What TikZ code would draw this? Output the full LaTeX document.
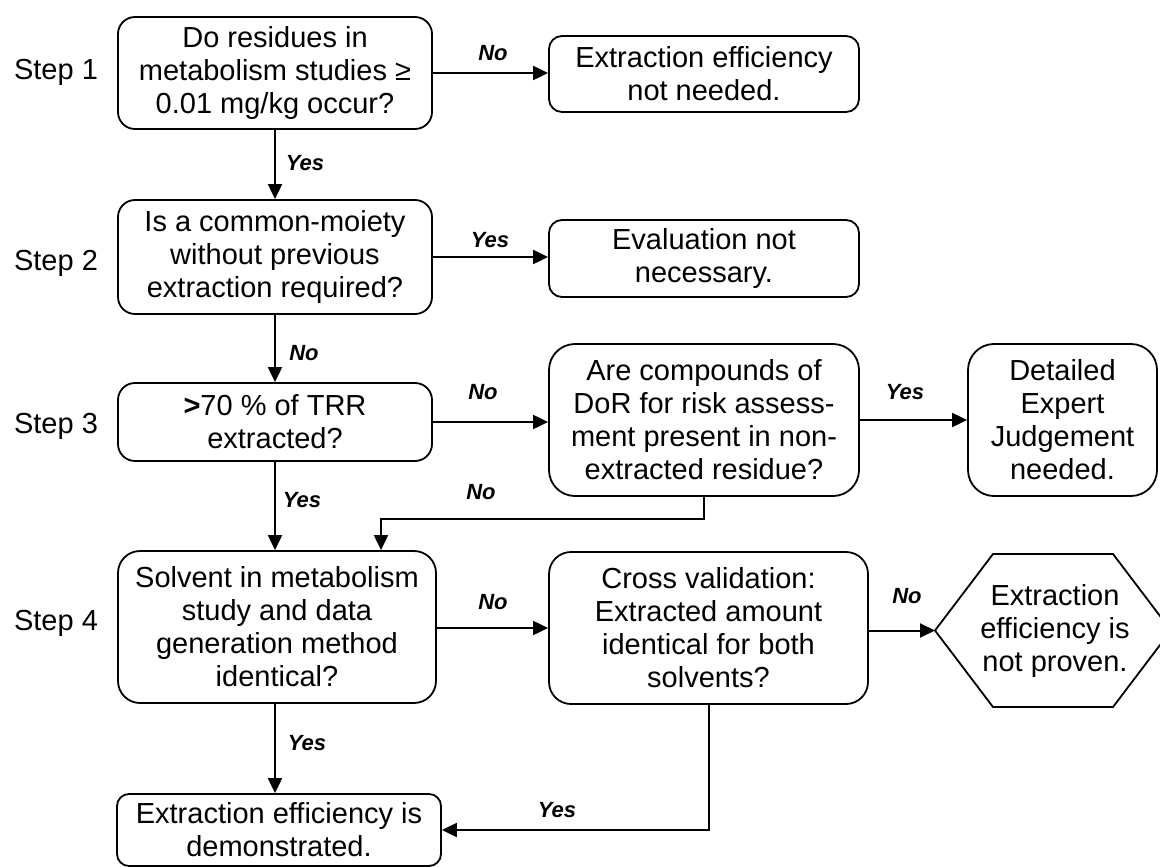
\documentclass[tikz,border=0pt]{standalone}
\usepackage{fontspec}
\setmainfont{Liberation Sans}
\usetikzlibrary{arrows.meta}
\begin{document}
\begin{tikzpicture}[x=1pt,y=-1pt]
\tikzset{
  box/.style={draw, line width=1.8pt, rounded corners=#1, align=center, inner sep=0pt,
    font=\fontsize{29}{33}\selectfont},
  box/.default=17pt,
  lbl/.style={font=\fontsize{22}{26}\selectfont\bfseries\itshape},
  arr/.style={line width=2pt, -{Triangle[length=15pt,width=14pt]}},
  steplbl/.style={font=\fontsize{29}{33}\selectfont},
  hexline/.style={draw, line width=1.8pt, line join=miter}
}
\useasboundingbox (0,0) rectangle (1160,867);
\fill[white] (0,0) rectangle (1160,867);

% step labels
\node[steplbl] (st1) at (56,72) {Step 1};
\node[steplbl] (st2) at (56,263) {Step 2};
\node[steplbl] (st3) at (56,426) {Step 3};
\node[steplbl] (st4) at (56,623) {Step 4};

% boxes
\node[box, minimum width=314pt, minimum height=112pt] (s1) at (275,73)
  {Do residues in\\metabolism studies ≥\\0.01 mg/kg occur?};
\node[box=13pt, minimum width=310pt, minimum height=76pt] (n1) at (704,74)
  {Extraction efficiency\\not needed.};
\node[box, minimum width=314pt, minimum height=114pt] (s2) at (275,257)
  {Is a common-moiety\\without previous\\extraction required?};
\node[box=13pt, minimum width=310pt, minimum height=77pt] (n2) at (704,258.5)
  {Evaluation not\\necessary.};
\node[box, minimum width=314pt, minimum height=78pt] (s3) at (275,422)
  {{\bfseries >}70 \% of TRR\\extracted?};
\node[box=26pt, minimum width=310pt, minimum height=152pt] (c3) at (704,420)
  {Are compounds of\\DoR for risk assess-\\ment present in non-\\extracted residue?};
\node[box=26pt, minimum width=189pt, minimum height=152pt] (d3) at (1062.5,420)
  {Detailed\\Expert\\Judgement\\needed.};
\node[box=22pt, minimum width=318pt, minimum height=152pt] (s4) at (277,627)
  {Solvent in metabolism\\study and data\\generation method\\identical?};
\node[box=22pt, minimum width=319pt, minimum height=152pt] (c4) at (708.5,628)
  {Cross validation:\\Extracted amount\\identical for both\\solvents?};
\node[box=12pt, minimum width=324pt, minimum height=72pt] (b) at (279,830)
  {Extraction efficiency is\\demonstrated.};

% hexagon
\draw[hexline] (935,630.5) -- (993,554) -- (1113,554) -- (1171,630.5) -- (1113,707) -- (993,707) -- cycle;
\node[align=center, inner sep=0pt, font=\fontsize{29}{33}\selectfont] (hex) at (1055,631)
  {Extraction\\efficiency is\\not proven.};
\coordinate (hexL) at (935,630.5);
\coordinate (j) at (381,519);

% connectors
\draw[arr] (s1.east) -- (s1.east -| n1.west);
\draw[arr] (s1.south) -- (s2.north);
\draw[arr] (s2.east) -- (s2.east -| n2.west);
\draw[arr] (s2.south) -- (s3.north);
\draw[arr] (s3.east) -- (s3.east -| c3.west);
\draw[arr] (s3.south) -- (s3.south |- s4.north);
\draw[arr] (c3.south) |- (j) -- (j |- s4.north);
\draw[arr] (c3.east) -- (c3.east -| d3.west);
\draw[arr] (s4.east |- c4.west) -- (c4.west);
\draw[arr] (c4.east |- hexL) -- (hexL);
\draw[arr] (s3.south |- s4.south) -- (s3.south |- b.north);
\draw[arr] (c4.south) |- (b.east);

% labels
\node[lbl] (l1) at (493,53) {No};
\node[lbl] (l2) at (305,163) {Yes};
\node[lbl] (l3) at (490,240) {Yes};
\node[lbl] (l4) at (304,353) {No};
\node[lbl] (l5) at (483,392) {No};
\node[lbl] (l6) at (302,500) {Yes};
\node[lbl] (l7) at (481,492) {No};
\node[lbl] (l8) at (905,392) {Yes};
\node[lbl] (l9) at (493,602) {No};
\node[lbl] (l10) at (307,743) {Yes};
\node[lbl] (l11) at (907,596) {No};
\node[lbl] (l12) at (557,810) {Yes};
\end{tikzpicture}
\end{document}
